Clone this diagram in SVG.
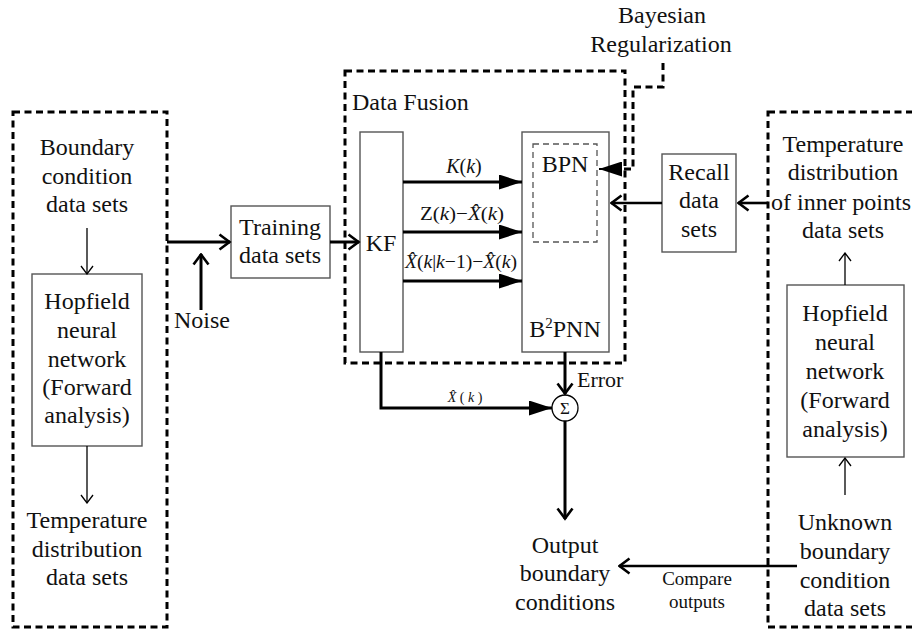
<svg xmlns="http://www.w3.org/2000/svg" width="912" height="633" viewBox="0 0 912 633" font-family="Liberation Serif, serif">
  <style>
    text { font-family: 'Liberation Serif', serif; fill: #111; }
    .t { font-size: 24px; text-anchor: middle; }
    .m { font-size: 19px; text-anchor: middle; }
    .s { font-size: 19px; text-anchor: middle; }
    .i { font-style: italic; }
    .box { fill: #fff; stroke: #555; stroke-width: 1.4; }
    .group { fill: none; stroke: #000; stroke-width: 3; stroke-dasharray: 7 4.5; }
    .inner { fill: none; stroke: #555; stroke-width: 1.3; stroke-dasharray: 6 4; }
    .thick { fill: none; stroke: #000; stroke-width: 3; }
    .mid { fill: none; stroke: #000; stroke-width: 2.6; }
    .thin { fill: none; stroke: #000; stroke-width: 1.3; }
  </style>
  <defs>
    <marker id="chev" viewBox="0 0 14 18" refX="12.5" refY="9" markerWidth="14" markerHeight="18" markerUnits="userSpaceOnUse" orient="auto">
      <path d="M2,1.5 L12,9 L2,16.5" fill="none" stroke="#000" stroke-width="2.6"/>
    </marker>
    <marker id="chevThin" viewBox="0 0 10 14" refX="9" refY="7" markerWidth="10" markerHeight="14" markerUnits="userSpaceOnUse" orient="auto">
      <path d="M1,1 L9,7 L1,13" fill="none" stroke="#000" stroke-width="1.3"/>
    </marker>
    <marker id="tri" viewBox="0 0 23 15" refX="23" refY="7.5" markerWidth="23" markerHeight="15" markerUnits="userSpaceOnUse" orient="auto">
      <path d="M0,0 L23,7.5 L0,15 z" fill="#000"/>
    </marker>
  </defs>

  <!-- grouping frames -->
  <g id="forward-frame">
    <rect class="group" x="13" y="112" width="154" height="515"/>
  </g>
  <g id="fusion-frame">
    <rect class="group" x="345" y="71" width="280" height="292"/>
    <text x="352" y="110" style="font-size:24px">Data Fusion</text>
  </g>
  <g id="inverse-frame">
    <rect class="group" x="768" y="112" width="160" height="515"/>
  </g>

  <!-- left column -->
  <g id="boundary-data">
    <text class="t" x="87" y="155">Boundary</text>
    <text class="t" x="87" y="184">condition</text>
    <text class="t" x="87" y="212">data sets</text>
  </g>
  <g id="hopfield-left">
    <rect class="box" x="32" y="274" width="110" height="172"/>
    <text class="t" x="87" y="309">Hopfield</text>
    <text class="t" x="87" y="338">neural</text>
    <text class="t" x="87" y="367">network</text>
    <text class="t" x="87" y="395">(Forward</text>
    <text class="t" x="87" y="423">analysis)</text>
  </g>
  <g id="temperature-data">
    <text class="t" x="87" y="528">Temperature</text>
    <text class="t" x="87" y="557">distribution</text>
    <text class="t" x="87" y="585">data sets</text>
  </g>

  <!-- training -->
  <g id="training">
    <rect class="box" x="231" y="206" width="99" height="72"/>
    <text class="t" x="280" y="235">Training</text>
    <text class="t" x="280" y="263">data sets</text>
  </g>
  <g id="noise">
    <text x="174" y="328" style="font-size:24px">Noise</text>
  </g>

  <!-- fusion block -->
  <g id="kf">
    <rect class="box" x="360" y="132" width="43" height="220"/>
    <text class="t" x="381" y="251">KF</text>
  </g>
  <g id="b2pnn">
    <rect class="box" x="522" y="132" width="87" height="220"/>
    <text class="t" x="565" y="337">B<tspan dy="-9" style="font-size:15px">2</tspan><tspan dy="9">PNN</tspan></text>
  </g>
  <g id="bpn">
    <rect class="inner" x="533" y="144" width="64" height="98"/>
    <text class="t" x="565" y="172">BPN</text>
  </g>
  <g id="bayesian">
    <text class="t" x="662" y="23">Bayesian</text>
    <text class="t" x="661" y="52">Regularization</text>
  </g>

  <!-- right column -->
  <g id="recall">
    <rect class="box" x="662" y="154" width="74" height="98"/>
    <text class="t" x="699" y="180">Recall</text>
    <text class="t" x="699" y="208">data</text>
    <text class="t" x="699" y="237">sets</text>
  </g>
  <g id="inner-temperature">
    <text class="t" x="843" y="152">Temperature</text>
    <text class="t" x="843" y="180">distribution</text>
    <text class="t" x="841" y="210">of inner points</text>
    <text class="t" x="843" y="238">data sets</text>
  </g>
  <g id="hopfield-right">
    <rect class="box" x="787" y="285" width="117" height="172"/>
    <text class="t" x="845" y="321">Hopfield</text>
    <text class="t" x="845" y="350">neural</text>
    <text class="t" x="845" y="379">network</text>
    <text class="t" x="845" y="408">(Forward</text>
    <text class="t" x="845" y="437">analysis)</text>
  </g>
  <g id="unknown-boundary">
    <text class="t" x="845" y="530">Unknown</text>
    <text class="t" x="845" y="559">boundary</text>
    <text class="t" x="845" y="588">condition</text>
    <text class="t" x="845" y="616">data sets</text>
  </g>

  <!-- summation and output -->
  <g id="sum">
    <circle cx="565" cy="408" r="13" fill="#fff" stroke="#000" stroke-width="1.3"/>
    <text x="565" y="414" style="font-size:17px;text-anchor:middle">Σ</text>
  </g>
  <g id="output">
    <text class="t" x="565" y="553">Output</text>
    <text class="t" x="565" y="581">boundary</text>
    <text class="t" x="565" y="610">conditions</text>
  </g>

  <!-- connectors -->
  <g id="connectors">
    <path class="thin" d="M87,228 V274" marker-end="url(#chevThin)"/>
    <path class="thin" d="M87,446 V503" marker-end="url(#chevThin)"/>
    <path class="thick" d="M167,242 H230" marker-end="url(#chev)"/>
    <path class="thick" d="M201,310 V254" marker-end="url(#chev)"/>
    <path class="thick" d="M330,242 H359" marker-end="url(#chev)"/>

    <path class="thick" d="M403,182 H522" marker-end="url(#tri)"/>
    <path class="thick" d="M403,232 H522" marker-end="url(#tri)"/>
    <path class="thick" d="M403,281 H522" marker-end="url(#tri)"/>

    <path class="group" d="M663,63 V87 H633 V169 H620"/>
    <path d="M622,169 H599" fill="none" stroke="#000" stroke-width="2" marker-end="url(#tri)"/>

    <path class="mid" d="M662,203 H611" marker-end="url(#chev)"/>
    <path class="mid" d="M768,203 H738" marker-end="url(#chev)"/>
    <path class="thin" d="M845,285 V253" marker-end="url(#chevThin)"/>
    <path class="thin" d="M845,495 V458" marker-end="url(#chevThin)"/>

    <path class="thick" d="M565,352 V394" marker-end="url(#chev)"/>
    <path class="thick" d="M381,352 V408 H552" marker-end="url(#tri)"/>
    <path class="thick" d="M565,421 V519" marker-end="url(#chev)"/>
    <path class="mid" d="M797,566 H619" marker-end="url(#chev)"/>

    <text x="577" y="387" style="font-size:22px">Error</text>
    <text class="m" x="464" y="173" style="font-size:20px"><tspan class="i">K</tspan>(<tspan class="i">k</tspan>)</text>
    <text class="m" x="462" y="220" textLength="84" lengthAdjust="spacingAndGlyphs">Z(<tspan class="i">k</tspan>)−<tspan class="i">X̂</tspan>(<tspan class="i">k</tspan>)</text>
    <text class="m" x="461" y="268" textLength="112" lengthAdjust="spacingAndGlyphs"><tspan class="i">X̂</tspan>(<tspan class="i">k</tspan>|<tspan class="i">k</tspan>−1)−<tspan class="i">X̂</tspan>(<tspan class="i">k</tspan>)</text>
    <text x="465" y="402" style="font-size:14px;text-anchor:middle"><tspan class="i">X̂</tspan> ( <tspan class="i">k</tspan> )</text>
    <text class="s" x="697" y="585">Compare</text>
    <text class="s" x="697" y="608">outputs</text>
  </g>
</svg>
